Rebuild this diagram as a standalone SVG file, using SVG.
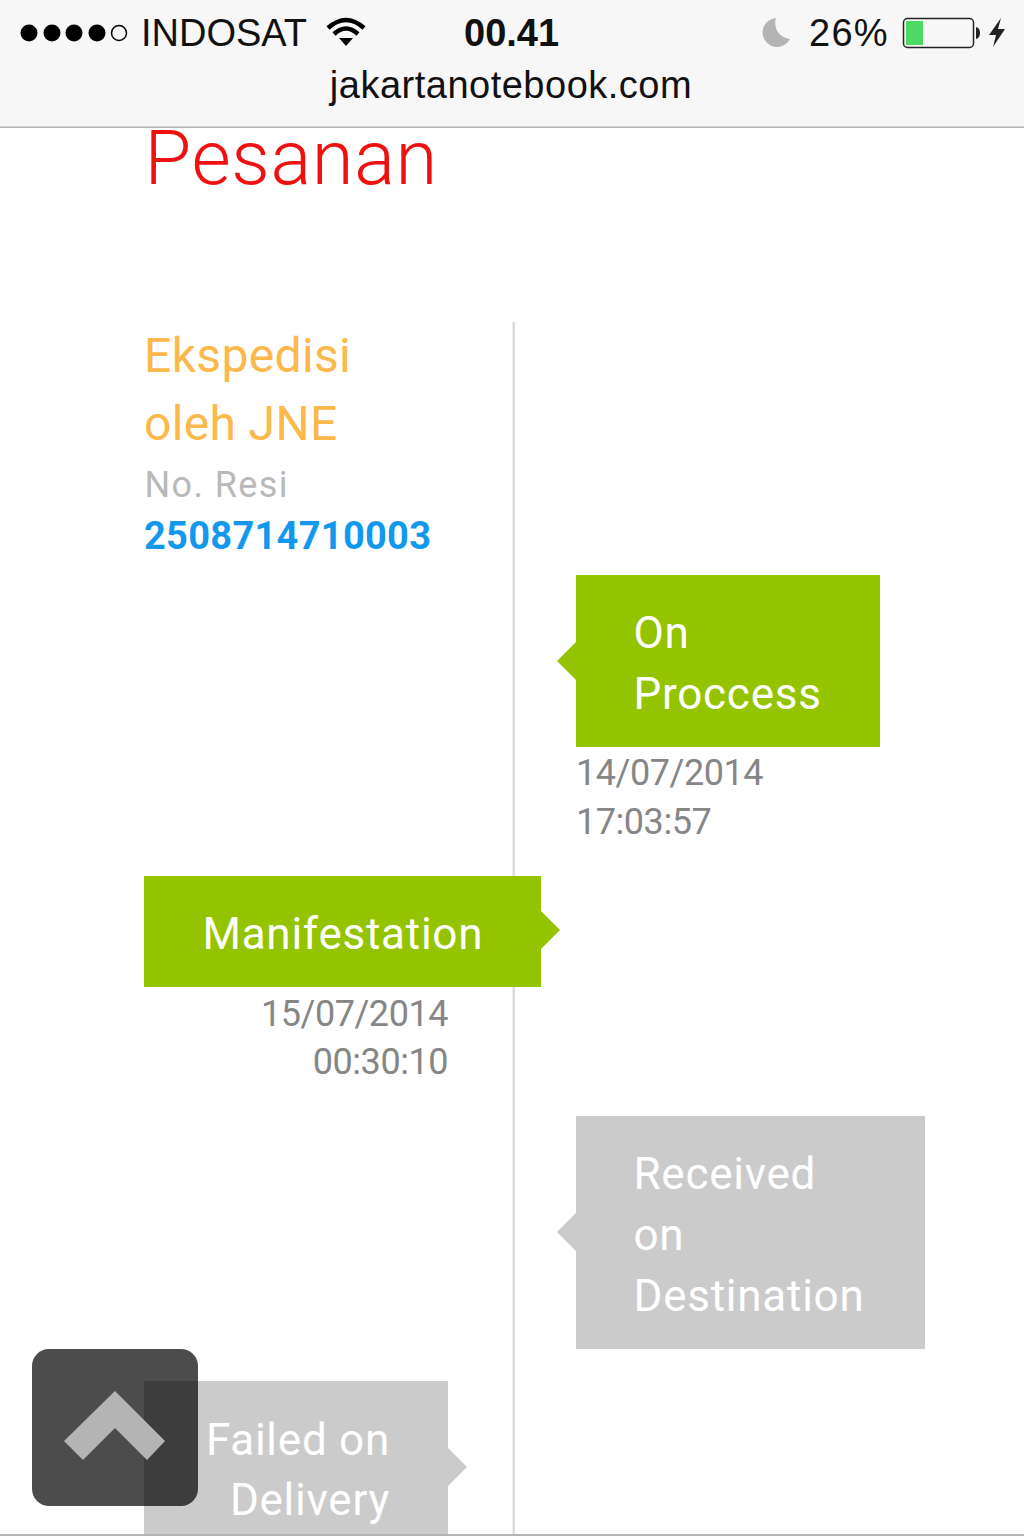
<svg xmlns="http://www.w3.org/2000/svg" width="1024" height="1536" viewBox="0 0 1024 1536">
<style>
.ios{font-family:"Liberation Sans",Arial,sans-serif;fill:#111}
.r{font-family:Roboto,"Liberation Sans",sans-serif}
.lab{font-size:44px;fill:#fff;letter-spacing:.75px}
.dt{font-size:36px;fill:#868686;letter-spacing:-.45px}
.g{fill:#94c400}
.y{fill:#cbcbcb}
.o{font-size:48px;fill:#fcb84a;letter-spacing:.35px}
</style>
<rect width="1024" height="1536" fill="#fff"/>
<g id="bar">
<rect width="1024" height="127" fill="#f8f7f7"/>
<rect y="126.500" width="1024" height="1.500" fill="#b4b4b4"/>
<g id="signal" fill="#000"><circle cx="29" cy="33" r="8.500"/><circle cx="52" cy="33" r="8.500"/><circle cx="74" cy="33" r="8.500"/><circle cx="97" cy="33" r="8.500"/><circle cx="119" cy="33" r="7.500" fill="none" stroke="#000" stroke-width="1.500"/></g>
<text class="ios" x="141" y="46" font-size="38">INDOSAT</text>
<g id="wifi" fill="none" stroke="#000" stroke-width="4.500"><path d="M328 28Q346 12 364 28"/><path d="M334 34Q346 23 358 34"/><path d="M339 38L346 46L353 38Z" fill="#000" stroke="none"/></g>
<text class="ios" x="464" y="46" font-size="38" font-weight="bold">00.41</text>
<path id="moon" d="M776 18A14.500 14.500 0 1 0 790 39A16 16 0 0 1 776 18Z" fill="#b4b4b4"/>
<text class="ios" x="809" y="46" font-size="38" letter-spacing="1.300">26%</text>
<g id="battery"><rect x="903.500" y="18.500" width="70" height="29" rx="4" fill="none" stroke="#222" stroke-width="1.500"/><rect x="906" y="21" width="17" height="24" fill="#4cd964"/><path d="M976 27Q980 28 980 33Q980 38 976 39Z" fill="#222"/><path d="M1001 18L989 35L996 35L993 47L1005 29L998 29Z" fill="#222"/></g>
<text class="ios" x="511" y="98" font-size="38" letter-spacing=".5" text-anchor="middle" fill="#222">jakartanotebook.com</text>
</g>
<text id="title" class="r" x="144.500" y="184" font-size="76" letter-spacing=".6" font-weight="300" fill="#ee1111">Pesanan</text>
<g id="info" class="r">
<text class="o" x="144" y="372">Ekspedisi</text>
<text class="o" x="144" y="440">oleh JNE</text>
<text x="144.500" y="497" font-size="36" letter-spacing="1.400" fill="#b9b9b9">No. Resi</text>
<text x="144" y="549" font-size="38" letter-spacing=".3" font-weight="bold" fill="#1299ee">2508714710003</text>
</g>
<g id="connectors"><rect x="512.500" y="322" width="2.500" height="1214" fill="#dcdcdc"/></g>
<g id="n1" class="r"><path class="g" d="M576 575H880V747H576V680L557 661L576 642Z"/>
<text class="lab" x="633.500" y="648">On</text><text class="lab" x="633.500" y="709">Proccess</text>
<text class="dt" x="576" y="785">14/07/2014</text><text class="dt" x="576" y="834">17:03:57</text></g>
<g id="n2" class="r"><path class="g" d="M144 876H541V911L560 930L541 949V987H144Z"/>
<text class="lab" x="202.500" y="949">Manifestation</text>
<text class="dt" x="448" y="1026" text-anchor="end">15/07/2014</text><text class="dt" x="448" y="1074" text-anchor="end">00:30:10</text></g>
<g id="n3" class="r"><path class="y" d="M576 1116H925V1349H576V1251L557 1232L576 1213Z"/>
<text class="lab" x="633.500" y="1189">Received</text><text class="lab" x="633.500" y="1250">on</text><text class="lab" x="633.500" y="1311">Destination</text></g>
<g id="n4" class="r"><path class="y" d="M144 1381H448V1448L467 1467L448 1486V1536H144Z"/>
<text class="lab" x="390" y="1455" text-anchor="end">Failed on</text><text class="lab" x="390" y="1515" text-anchor="end">Delivery</text></g>
<rect y="1534" width="1024" height="2" fill="#b4b4b4"/>
<g id="top-button"><rect x="32" y="1349" width="166" height="157" rx="17" fill="#000" fill-opacity="0.700"/>
<path d="M115 1391L165 1441L147 1460L115 1428L83 1460L64 1441Z" fill="#b4b4b4"/></g>
</svg>
